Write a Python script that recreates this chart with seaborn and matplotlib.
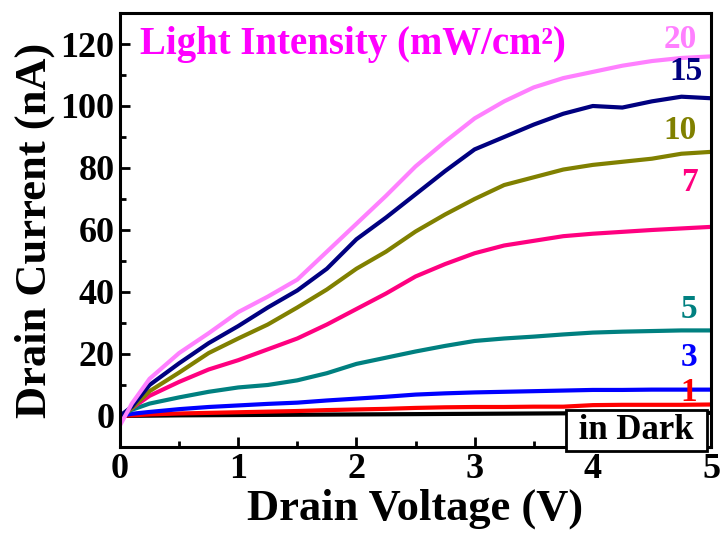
import numpy as np
import pandas as pd
import seaborn as sns
import matplotlib.pyplot as plt
from matplotlib.ticker import MultipleLocator

# drain voltage grid (V)
voltage = [0, 0.1, 0.25, 0.5, 0.75, 1, 1.25, 1.5, 1.75, 2, 2.25, 2.5,
           2.75, 3, 3.25, 3.5, 3.75, 4, 4.25, 4.5, 4.75, 5]

# drain current (nA) per light intensity (mW/cm2)
i_dark = [0, 0.05, 0.1, 0.2, 0.25, 0.3, 0.35, 0.4, 0.45, 0.5, 0.55, 0.6,
          0.65, 0.7, 0.75, 0.8, 0.85, 0.9, 0.9, 0.95, 1.0, 1.0]
i_1 = [0, 0.2, 0.5, 0.8, 1.0, 1.2, 1.4, 1.6, 1.9, 2.1, 2.3, 2.6,
       2.8, 2.9, 2.9, 3.0, 3.0, 3.5, 3.6, 3.6, 3.6, 3.7]
i_3 = [0, 0.7, 1.3, 2.2, 2.9, 3.4, 3.9, 4.3, 5.0, 5.6, 6.2, 6.9,
       7.3, 7.6, 7.8, 8.0, 8.2, 8.4, 8.4, 8.5, 8.5, 8.5]
i_5 = [0, 2, 4, 6, 7.8, 9.2, 10, 11.5, 13.8, 16.8, 18.8, 20.8,
       22.6, 24.2, 25, 25.6, 26.3, 26.9, 27.2, 27.4, 27.6, 27.6]
i_7 = [0, 2.5, 6.5, 11, 15, 18, 21.5, 25, 29.5, 34.5, 39.5, 45,
       49, 52.5, 55, 56.5, 58, 58.8, 59.4, 60, 60.5, 61]
i_10 = [0, 2.5, 8, 14, 20.3, 25, 29.5, 35, 40.8, 47.5, 53, 59.5,
        65, 70, 74.5, 77, 79.5, 81, 82, 83, 84.6, 85.2]
i_15 = [0, 3, 10, 17, 23.5, 29, 35, 40.5, 47.5, 57, 64, 71.5,
        79, 86, 90, 94, 97.5, 100, 99.5, 101.5, 103, 102.5]
i_20 = [-3, 4, 12, 20.3, 26.7, 33.5, 38.5, 44, 53, 62, 71, 80.5,
        88.5, 96, 101.5, 106, 109, 111, 113, 114.5, 115.5, 116]

series = ['dark', '1', '3', '5', '7', '10', '15', '20']
currents = [i_dark, i_1, i_3, i_5, i_7, i_10, i_15, i_20]
colors = ['#000000', '#ff0000', '#0000ff', '#008080', '#ff0080',
          '#808000', '#000080', '#ff80ff']
# label positions (V, nA)
label_xy = {'1': (4.81, 7.5), '3': (4.81, 19), '5': (4.81, 34.2),
            '7': (4.82, 75.3), '10': (4.74, 92), '15': (4.79, 111),
            '20': (4.74, 121.3)}

df = pd.concat([pd.DataFrame({'V': voltage, 'I': c, 'series': s})
                for s, c in zip(series, currents)], ignore_index=True)

sns.set_style('ticks')
plt.rcParams['font.family'] = ['Liberation Serif', 'DejaVu Serif']
plt.rcParams['font.weight'] = 'bold'
plt.rcParams['text.color'] = 'black'
plt.rcParams['axes.labelcolor'] = 'black'
plt.rcParams['xtick.color'] = 'black'
plt.rcParams['ytick.color'] = 'black'
plt.rcParams['axes.edgecolor'] = 'black'

fig = plt.figure(figsize=(7.2, 5.33), dpi=100)
ax = fig.add_axes([0.1667, 0.1614, 0.8208, 0.8142])

sns.lineplot(data=df, x='V', y='I', hue='series', hue_order=series,
             palette=dict(zip(series, colors)), linewidth=3, legend=False,
             sort=False, ax=ax)

for s, c in zip(series, colors):
    if s in label_xy:
        x, y = label_xy[s]
        ax.text(x, y, s, color=c, fontsize=24, fontweight='bold',
                ha='center', va='center')

ax.text(0.17, 119.8, 'Light Intensity (mW/cm\u00b2)', color='#ff00ff',
        fontsize=28, fontweight='bold', ha='left', va='center')
ax.text(4.37, -4.6, ' in Dark ', color='black', fontsize=25,
        fontweight='bold', ha='center', va='center',
        bbox=dict(boxstyle='square,pad=0.12', facecolor='white',
                  edgecolor='black', linewidth=2))

ax.set_xlim(0, 5)
ax.set_ylim(-10, 130)
ax.xaxis.set_major_locator(MultipleLocator(1))
ax.xaxis.set_minor_locator(MultipleLocator(0.5))
ax.yaxis.set_major_locator(MultipleLocator(20))
ax.yaxis.set_minor_locator(MultipleLocator(10))
ax.set_yticks(range(0, 121, 20))
ax.tick_params(which='both', direction='in', width=2, labelsize=26,
               top=False, right=False, pad=4)
ax.tick_params(which='major', length=7)
ax.tick_params(which='minor', length=4)
for sp in ax.spines.values():
    sp.set_linewidth(2.2)
    sp.set_visible(True)

ax.set_xlabel('Drain Voltage (V)', fontsize=32, fontweight='bold',
              labelpad=2)
ax.set_ylabel('Drain Current (nA)', fontsize=32, fontweight='bold',
              labelpad=4)

fig.savefig('out.png', dpi=100)
